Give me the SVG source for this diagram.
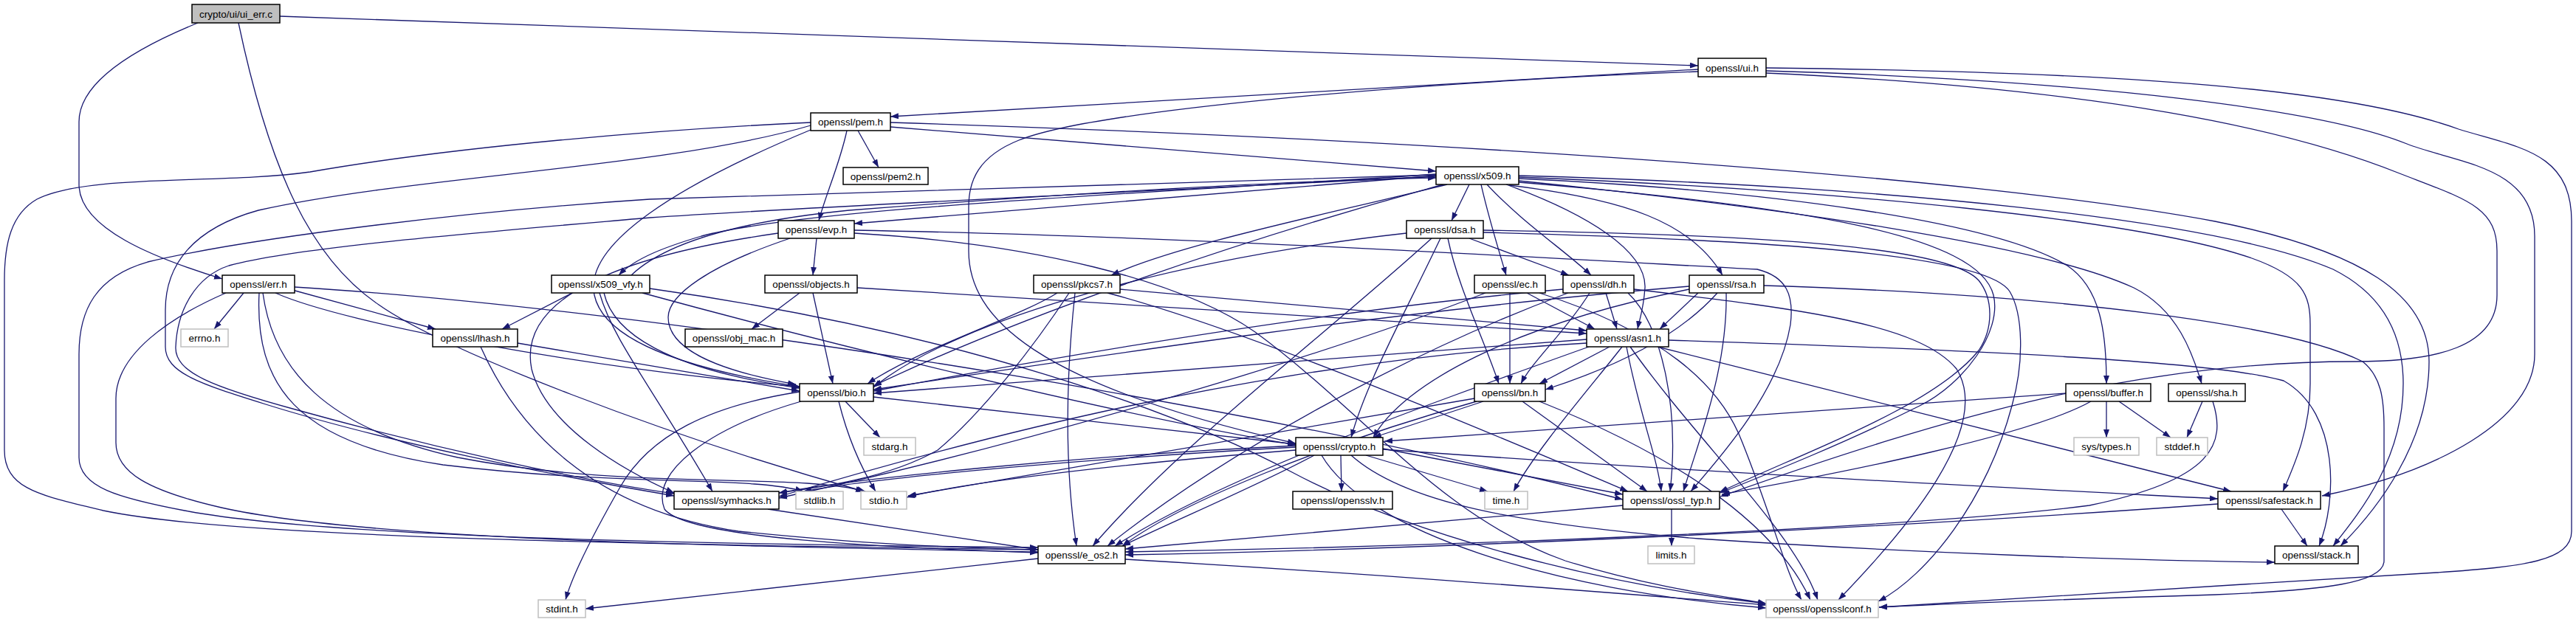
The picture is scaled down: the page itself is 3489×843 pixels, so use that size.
<svg xmlns="http://www.w3.org/2000/svg" width="3489" height="843" viewBox="0 0 3489 843">
<style>
.n rect{fill:#fff;stroke:#000;stroke-width:1.5}
.x rect{fill:#fff;stroke:#bfbfbf;stroke-width:1.5}
.r rect{fill:#bfbfbf;stroke:#000;stroke-width:1.5}
text{font-family:"Liberation Sans",Arial,Helvetica,sans-serif;font-size:13.5px;text-anchor:middle;fill:#000}
#edges path{fill:none;stroke:#191970;stroke-width:1.3;marker-end:url(#a)}
</style>
<defs>
<marker id="a" viewBox="0 0 11 8" refX="11" refY="4" markerWidth="11" markerHeight="8" markerUnits="userSpaceOnUse" orient="auto"><path d="M0,0 L11,4 L0,8 z" fill="#191970"/></marker>
</defs>
<rect width="3489" height="843" fill="#fff"/>
<g id="edges">
<path d="M379,22 L2300,89"/>
<path d="M268,31 C160,75 107,120 107,165 L107,250 C107,310 210,350 301,378"/>
<path d="M323,31 C365,230 420,350 513,413 C600,475 900,590 1170,666"/>
<path d="M2300,94 L1206,158"/>
<path d="M2300,97 C1900,112 1480,150 1380,190 C1325,212 1312,245 1312,280 L1312,340 C1312,430 1400,520 1755,601"/>
<path d="M2392,96 C2850,110 3150,150 3260,195 C3330,222 3433,225 3433,320 L3433,480 C3433,570 3300,640 3145,672"/>
<path d="M2392,92 C2950,98 3200,128 3330,175 C3410,200 3483,205 3483,300 L3483,720 C3483,760 3420,768 3300,776 C3050,792 2750,808 2545,823"/>
<path d="M2392,99 C2850,120 3100,175 3250,235 C3340,270 3382,280 3382,340 L3382,400 C3382,470 3300,490 3190,490 C2900,490 2650,560 2330,673"/>
<path d="M1206,172 L1945,232"/>
<path d="M1206,166 C1900,188 2650,235 3000,300 C3200,340 3290,400 3290,490 C3290,600 3220,690 3170,740"/>
<path d="M1162,177 L1190,227"/>
<path d="M1147,177 C1138,220 1118,265 1109,299"/>
<path d="M1098,176 C920,250 790,330 805,400 C820,470 960,505 1083,524"/>
<path d="M1098,166 C900,175 620,198 420,233 C300,250 120,235 50,270 C15,290 6,330 6,380 L6,610 C6,665 60,672 140,692 C320,730 900,738 1406,745"/>
<path d="M1098,170 C900,228 560,238 350,285 C260,310 224,360 224,420 L224,470 C224,505 270,520 360,548 C520,598 750,645 913,672"/>
<path d="M1990,250 L1966,299"/>
<path d="M2006,250 C2015,290 2030,340 2040,373"/>
<path d="M2014,250 C2060,300 2120,340 2155,373"/>
<path d="M2044,251 C2200,270 2290,300 2333,373"/>
<path d="M1945,238 L1157,303"/>
<path d="M1960,250 C1800,290 1600,330 1505,373"/>
<path d="M1945,236 C1600,260 1100,280 950,320 C900,335 860,350 838,373"/>
<path d="M855,373 C900,330 1000,300 1150,285 C1500,258 1800,243 1945,241"/>
<path d="M1955,250 C1700,320 1400,420 1183,523"/>
<path d="M1945,237 C1500,250 1100,262 880,270 C650,285 350,320 200,355 C130,375 107,420 107,480 L107,620 C107,660 160,675 250,692 C450,730 1000,738 1406,742"/>
<path d="M1945,239 C1500,262 1100,280 880,295 C650,315 400,335 310,360 C265,375 240,420 238,470 C236,505 290,525 400,555 C580,605 780,650 913,669"/>
<path d="M2040,250 C2150,290 2230,340 2228,390 C2226,420 2220,435 2218,446"/>
<path d="M2057,242 C2400,258 2700,300 2800,360 C2845,390 2853,450 2853,520"/>
<path d="M2057,245 C2400,280 2760,330 2890,390 C2950,420 2970,480 2982,520"/>
<path d="M2057,240 C2500,258 2900,298 3050,350 C3120,375 3129,400 3129,440 L3129,520 C3129,580 3110,625 3092,666"/>
<path d="M2057,238 C2550,252 3000,296 3160,365 C3240,405 3255,470 3255,520 C3255,620 3200,690 3160,740"/>
<path d="M2057,247 C2450,280 2680,320 2700,400 C2712,450 2660,520 2600,550 C2500,600 2400,640 2330,668"/>
<path d="M775,397 L680,446"/>
<path d="M818,397 C830,450 900,500 1083,526"/>
<path d="M812,397 C830,460 880,520 965,666"/>
<path d="M870,397 C1100,460 1500,560 1755,603"/>
<path d="M880,391 C1300,450 1600,560 1750,640 C1900,720 2150,790 2392,818"/>
<path d="M1106,323 L1101,373"/>
<path d="M1070,323 C960,360 905,400 905,430 C905,470 960,500 1078,521"/>
<path d="M1054,316 C850,345 700,400 720,500 C740,580 850,640 913,668"/>
<path d="M1157,312 C1600,320 2100,350 2380,365 C2420,375 2430,400 2425,440 C2410,530 2330,620 2290,666"/>
<path d="M1157,316 C1400,330 1600,380 1700,450 C1850,560 1950,700 2120,760 C2250,800 2350,810 2392,818"/>
<path d="M1083,397 L1018,446"/>
<path d="M1101,397 L1128,520"/>
<path d="M1161,390 L2149,452"/>
<path d="M1517,392 L2149,448"/>
<path d="M1432,397 C1380,430 1250,470 1175,520"/>
<path d="M1456,397 C1445,500 1440,620 1458,740"/>
<path d="M1448,397 C1400,470 1330,560 1270,610 C1200,650 1100,662 1055,668"/>
<path d="M1500,397 C1700,450 2050,600 2205,666"/>
<path d="M1990,323 L2125,373"/>
<path d="M1961,323 C1975,390 2010,460 2030,520"/>
<path d="M1939,323 C1800,450 1600,600 1480,740"/>
<path d="M1905,316 C1600,350 1300,430 1183,525"/>
<path d="M1951,323 C1900,430 1850,520 1830,593"/>
<path d="M2009,312 C2400,318 2640,335 2680,380 C2700,405 2700,445 2680,475 C2620,550 2450,610 2329,667"/>
<path d="M2009,315 C2400,325 2690,345 2722,395 C2740,425 2742,490 2725,550 C2690,680 2610,780 2544,815"/>
<path d="M2045,397 L2045,520"/>
<path d="M2068,397 L2160,446"/>
<path d="M2012,397 C1800,480 1400,600 1055,675"/>
<path d="M2085,397 C2250,450 2330,520 2360,600 C2400,700 2420,780 2440,813"/>
<path d="M2175,397 L2190,446"/>
<path d="M2153,397 C2120,450 2075,490 2060,520"/>
<path d="M2124,397 C1900,480 1650,620 1500,740"/>
<path d="M2117,392 C1800,420 1450,480 1183,530"/>
<path d="M2205,397 C2250,440 2275,550 2262,666"/>
<path d="M2213,392 C2450,420 2600,440 2650,500 C2700,580 2580,720 2490,813"/>
<path d="M2300,397 L2248,446"/>
<path d="M2326,397 C2270,460 2180,500 2093,528"/>
<path d="M2338,397 C2340,500 2300,600 2280,666"/>
<path d="M2288,392 C2050,440 1900,520 1860,593"/>
<path d="M2288,388 C1900,420 1500,480 1183,528"/>
<path d="M2389,387 C2800,400 3100,440 3200,490 C3225,510 3229,540 3229,580 L3229,760 C3229,790 3150,800 3000,806 C2800,812 2650,818 2545,823"/>
<path d="M330,397 L290,446"/>
<path d="M396,393 L590,446"/>
<path d="M373,397 C470,440 800,500 1083,524"/>
<path d="M351,397 C345,520 400,600 600,630 C850,660 1020,645 1088,666"/>
<path d="M356,397 C370,500 440,580 620,620 C850,665 1080,640 1172,666"/>
<path d="M306,397 C230,430 157,480 157,540 L157,600 C157,640 200,665 300,688 C500,733 1000,740 1406,748"/>
<path d="M399,389 C900,420 1700,550 2198,677"/>
<path d="M701,465 L1083,530"/>
<path d="M651,470 C700,580 800,690 1000,720 C1200,740 1300,742 1406,745"/>
<path d="M1145,544 L1192,593"/>
<path d="M1136,544 C1150,600 1170,640 1186,666"/>
<path d="M1183,538 L1755,602"/>
<path d="M1085,544 C960,580 880,640 900,690 C930,730 1200,742 1406,749"/>
<path d="M1083,531 C960,550 880,590 840,660 C800,730 775,780 766,813"/>
<path d="M2197,470 C2150,530 2080,610 2050,666"/>
<path d="M2152,470 C1900,560 1650,650 1510,740"/>
<path d="M2208,470 C2300,600 2430,720 2462,813"/>
<path d="M2149,460 L1183,533"/>
<path d="M2260,461 C2700,475 3000,490 3093,516 C3170,560 3165,680 3141,740"/>
<path d="M2245,470 L3022,666"/>
<path d="M2149,465 C1700,490 1300,600 1055,673"/>
<path d="M2203,470 C2220,560 2245,620 2250,666"/>
<path d="M2180,470 L2085,520"/>
<path d="M2009,544 L1860,593"/>
<path d="M2062,544 L2231,666"/>
<path d="M2085,544 C2250,610 2400,700 2452,813"/>
<path d="M1997,540 L1230,672"/>
<path d="M2000,544 C1800,600 1600,680 1520,740"/>
<path d="M2853,544 L2853,593"/>
<path d="M2870,544 L2940,593"/>
<path d="M2798,533 L1875,598"/>
<path d="M2832,544 C2750,590 2500,640 2332,670"/>
<path d="M2983,544 L2962,593"/>
<path d="M2997,544 C3015,600 3000,650 2830,685 C2600,715 2000,740 1524,748"/>
<path d="M1816,617 L1817,666"/>
<path d="M1850,617 L2015,666"/>
<path d="M1873,608 L2198,670"/>
<path d="M1755,606 C1500,620 1200,645 1088,666"/>
<path d="M1755,604 C1450,618 1150,650 1055,668"/>
<path d="M1755,610 C1500,630 1300,655 1228,674"/>
<path d="M1780,617 C1700,660 1580,710 1520,740"/>
<path d="M1830,617 C1900,680 2050,710 2300,730 C2600,750 2900,760 3081,762"/>
<path d="M1873,609 C2300,640 2700,660 3004,676"/>
<path d="M1790,617 C1850,720 2100,800 2392,824"/>
<path d="M1040,690 L1406,745"/>
<path d="M2198,685 L1524,744"/>
<path d="M2264,690 L2264,740"/>
<path d="M3090,690 L3125,740"/>
<path d="M3004,683 C2500,720 1900,745 1524,752"/>
<path d="M1524,758 C1900,780 2200,805 2392,820"/>
<path d="M1406,757 L793,825"/>
</g>
<g id="ui_err_c" class="r"><rect x="260" y="6" width="119" height="25"/><text x="319.5" y="23.5">crypto/ui/ui_err.c</text></g>
<g id="ui_h" class="n"><rect x="2300" y="79" width="92" height="25"/><text x="2346" y="96.5">openssl/ui.h</text></g>
<g id="pem_h" class="n"><rect x="1098" y="153" width="108" height="24"/><text x="1152" y="170">openssl/pem.h</text></g>
<g id="pem2_h" class="n"><rect x="1142" y="227" width="115" height="23"/><text x="1199.5" y="243.5">openssl/pem2.h</text></g>
<g id="x509_h" class="n"><rect x="1945" y="226" width="112" height="24"/><text x="2001" y="243">openssl/x509.h</text></g>
<g id="evp_h" class="n"><rect x="1054" y="299" width="103" height="24"/><text x="1105.5" y="316">openssl/evp.h</text></g>
<g id="dsa_h" class="n"><rect x="1905" y="299" width="104" height="24"/><text x="1957" y="316">openssl/dsa.h</text></g>
<g id="err_h" class="n"><rect x="301" y="373" width="98" height="24"/><text x="350" y="390">openssl/err.h</text></g>
<g id="x509_vfy_h" class="n"><rect x="747" y="373" width="133" height="24"/><text x="813.5" y="390">openssl/x509_vfy.h</text></g>
<g id="objects_h" class="n"><rect x="1036" y="373" width="125" height="24"/><text x="1098.5" y="390">openssl/objects.h</text></g>
<g id="pkcs7_h" class="n"><rect x="1400" y="373" width="117" height="24"/><text x="1458.5" y="390">openssl/pkcs7.h</text></g>
<g id="ec_h" class="n"><rect x="1997" y="373" width="96" height="24"/><text x="2045" y="390">openssl/ec.h</text></g>
<g id="dh_h" class="n"><rect x="2117" y="373" width="96" height="24"/><text x="2165" y="390">openssl/dh.h</text></g>
<g id="rsa_h" class="n"><rect x="2288" y="373" width="101" height="24"/><text x="2338.5" y="390">openssl/rsa.h</text></g>
<g id="errno_h" class="x"><rect x="245" y="446" width="64" height="24"/><text x="277" y="463">errno.h</text></g>
<g id="lhash_h" class="n"><rect x="586" y="446" width="115" height="24"/><text x="643.5" y="463">openssl/lhash.h</text></g>
<g id="obj_mac_h" class="n"><rect x="928" y="446" width="132" height="24"/><text x="994" y="463">openssl/obj_mac.h</text></g>
<g id="asn1_h" class="n"><rect x="2149" y="446" width="111" height="24"/><text x="2204.5" y="463">openssl/asn1.h</text></g>
<g id="bio_h" class="n"><rect x="1083" y="520" width="100" height="24"/><text x="1133" y="537">openssl/bio.h</text></g>
<g id="bn_h" class="n"><rect x="1997" y="520" width="96" height="24"/><text x="2045" y="537">openssl/bn.h</text></g>
<g id="buffer_h" class="n"><rect x="2798" y="520" width="115" height="24"/><text x="2855.5" y="537">openssl/buffer.h</text></g>
<g id="sha_h" class="n"><rect x="2937" y="520" width="104" height="24"/><text x="2989" y="537">openssl/sha.h</text></g>
<g id="stdarg_h" class="x"><rect x="1170" y="593" width="70" height="24"/><text x="1205" y="610">stdarg.h</text></g>
<g id="crypto_h" class="n"><rect x="1755" y="593" width="118" height="24"/><text x="1814" y="610">openssl/crypto.h</text></g>
<g id="sys_types_h" class="x"><rect x="2809" y="593" width="88" height="24"/><text x="2853" y="610">sys/types.h</text></g>
<g id="stddef_h" class="x"><rect x="2921" y="593" width="69" height="24"/><text x="2955.5" y="610">stddef.h</text></g>
<g id="symhacks_h" class="n"><rect x="913" y="666" width="142" height="24"/><text x="984" y="683">openssl/symhacks.h</text></g>
<g id="stdlib_h" class="x"><rect x="1078" y="666" width="64" height="24"/><text x="1110" y="683">stdlib.h</text></g>
<g id="stdio_h" class="x"><rect x="1166" y="666" width="62" height="24"/><text x="1197" y="683">stdio.h</text></g>
<g id="opensslv_h" class="n"><rect x="1751" y="666" width="135" height="24"/><text x="1818.5" y="683">openssl/opensslv.h</text></g>
<g id="time_h" class="x"><rect x="2011" y="666" width="58" height="24"/><text x="2040" y="683">time.h</text></g>
<g id="ossl_typ_h" class="n"><rect x="2198" y="666" width="131" height="24"/><text x="2263.5" y="683">openssl/ossl_typ.h</text></g>
<g id="safestack_h" class="n"><rect x="3004" y="666" width="139" height="24"/><text x="3073.5" y="683">openssl/safestack.h</text></g>
<g id="e_os2_h" class="n"><rect x="1406" y="740" width="118" height="24"/><text x="1465" y="757">openssl/e_os2.h</text></g>
<g id="limits_h" class="x"><rect x="2232" y="740" width="63" height="24"/><text x="2263.5" y="757">limits.h</text></g>
<g id="stack_h" class="n"><rect x="3081" y="740" width="113" height="24"/><text x="3137.5" y="757">openssl/stack.h</text></g>
<g id="stdint_h" class="x"><rect x="729" y="813" width="64" height="24"/><text x="761" y="830">stdint.h</text></g>
<g id="opensslconf_h" class="x"><rect x="2392" y="813" width="152" height="24"/><text x="2468" y="830">openssl/opensslconf.h</text></g>
</svg>
